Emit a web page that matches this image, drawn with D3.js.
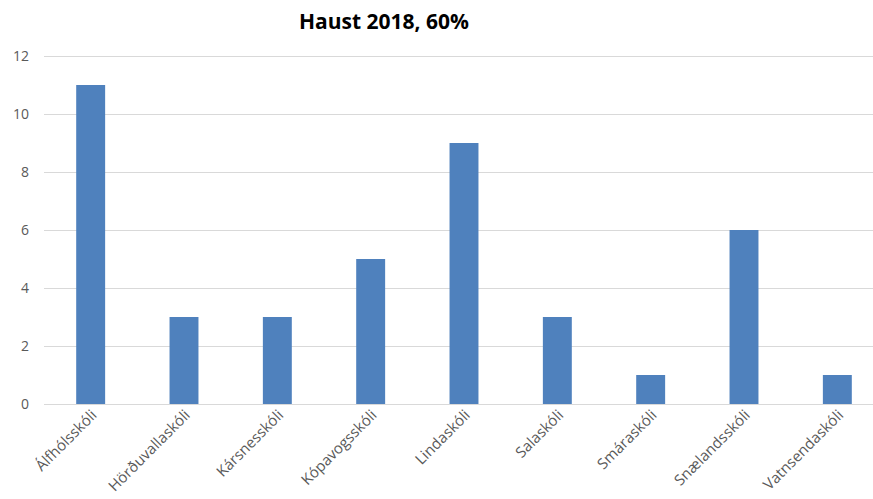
<!DOCTYPE html>
<html>
<head>
<meta charset="utf-8">
<script src="https://cdn.jsdelivr.net/npm/d3@7"></script>
<style>
  body { margin: 0; background: #fff; }
  text { font-family: "Open Sans", "Noto Sans", sans-serif; }
</style>
</head>
<body>
<div id="chart"></div>
<script>
const schools = ["Álfhólsskóli", "Hörðuvallaskóli", "Kársnesskóli", "Kópavogsskóli", "Lindaskóli",
  "Salaskóli", "Smáraskóli", "Snælandsskóli", "Vatnsendaskóli"];
const counts = [11, 3, 3, 5, 9, 3, 1, 6, 1];
const yTicks = [0, 2, 4, 6, 8, 10, 12];
const title = "Haust 2018, 60%";

const width = 873, height = 499;

const svg = d3.select("#chart")
  .append("svg")
  .attr("width", width)
  .attr("height", height);

const x = d3.scaleBand()
  .domain(schools)
  .range([44, 884])
  .paddingInner(0.69)
  .paddingOuter(0.345);

const y = d3.scaleLinear()
  .domain([0, 12])
  .range([404, 56]);

// gridlines
svg.selectAll(".grid")
  .data(yTicks)
  .join("line")
  .attr("class", "grid")
  .attr("x1", 44)
  .attr("x2", 873)
  .attr("y1", d => y(d) + 0.5)
  .attr("y2", d => y(d) + 0.5)
  .attr("stroke", "#d9d9d9")
  .attr("stroke-width", 1);

// y labels
svg.selectAll(".ylab")
  .data(yTicks)
  .join("text")
  .attr("class", "ylab")
  .attr("x", 29)
  .attr("y", d => y(d))
  .attr("dy", "0.35em")
  .attr("text-anchor", "end")
  .attr("font-size", 14)
  .attr("fill", "#595959")
  .text(d => d);

// bars
svg.selectAll(".bar")
  .data(counts)
  .join("rect")
  .attr("class", "bar")
  .attr("x", (d, i) => x(schools[i]))
  .attr("y", d => y(d))
  .attr("width", x.bandwidth())
  .attr("height", d => y(0) - y(d))
  .attr("fill", "#4f81bd");

// x labels, rotated
svg.selectAll(".xlab")
  .data(schools)
  .join("text")
  .attr("class", "xlab")
  .attr("text-anchor", "end")
  .attr("font-size", 15)
  .attr("fill", "#595959")
  .attr("transform", d => `translate(${x(d) + x.bandwidth() / 2 + 7}, 416) rotate(-45)`)
  .text(d => d);

svg.append("text")
  .attr("x", 384)
  .attr("y", 29)
  .attr("text-anchor", "middle")
  .attr("font-size", 21)
  .attr("font-weight", "bold")
  .attr("fill", "#000")
  .text(title);
</script>
</body>
</html>
